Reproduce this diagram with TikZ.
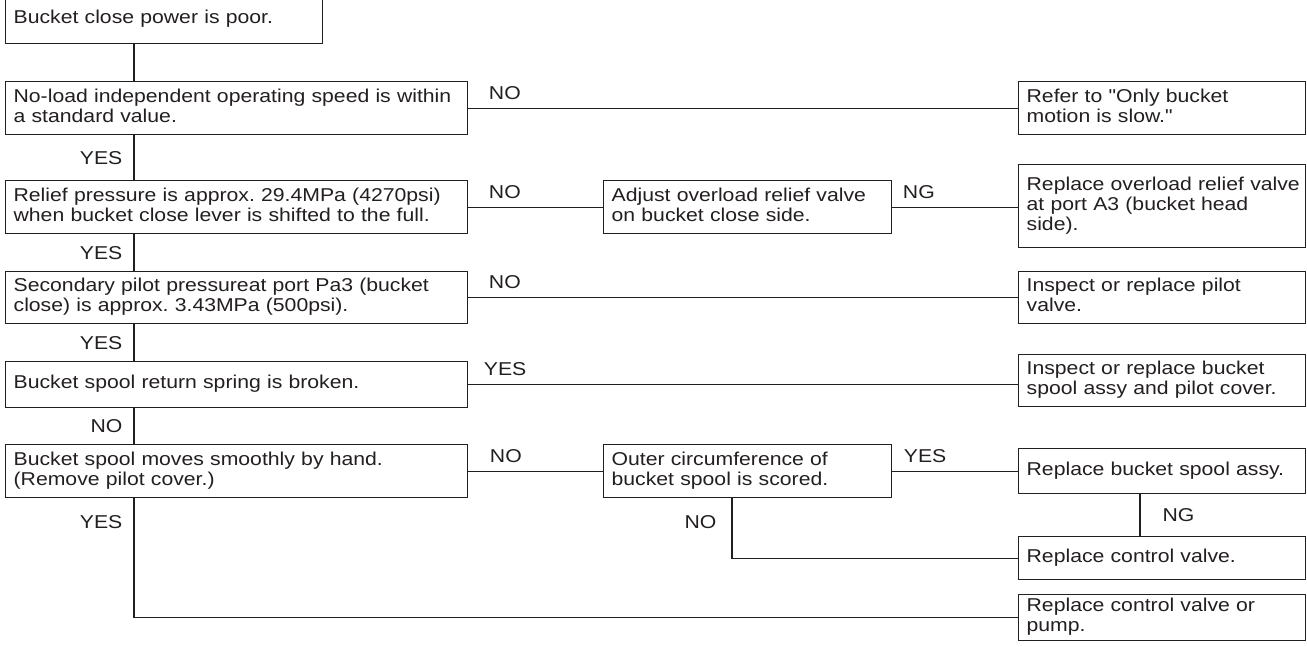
\documentclass[tikz,border=0pt]{standalone}
\usepackage{fontspec}
\setmainfont{Liberation Sans}[FakeStretch=1.14,Ligatures=TeXOff]
\usepackage{tikz}
\definecolor{ink}{RGB}{35,31,32}
\tikzset{
	box/.style={draw=ink, line width=1.3pt, anchor=north west, inner xsep=8pt, inner ysep=0pt, align=left},
	link/.style={draw=ink, line width=1.3pt},
	lab/.style={inner sep=0pt, text=ink},
	hlab/.style={lab, pos=0, anchor=south west, yshift=8pt},
}
\newcommand{\rows}[1]{\begin{tabular}{@{}l@{}}#1\end{tabular}}

\begin{document}
\frenchspacing
\begin{tikzpicture}[x=1pt,y=-1pt,font=\fontsize{18.6}{20}\selectfont,text=ink]
	\useasboundingbox[fill=white] (0,0) rectangle (1307,646);
	% left column
	\node[box, text width=301pt, minimum height=49pt] (power) at (5,-6) {\rows{Bucket close power is poor.}};
	\node[box, text width=446pt, minimum height=53pt] (noload) at (5,81) {\rows{No-load independent operating speed is within\\a standard value.}};
	\node[box, text width=446pt, minimum height=53pt] (relief) at (5,180) {\rows{Relief pressure is approx. 29.4MPa (4270psi)\\when bucket close lever is shifted to the full.}};
	\node[box, text width=446pt, minimum height=52pt] (pilot) at (5,271) {\rows{Secondary pilot pressureat port Pa3 (bucket\\close) is approx. 3.43MPa (500psi).}};
	\node[box, text width=446pt, minimum height=46pt] (spring) at (5,361) {\rows{Bucket spool return spring is broken.}};
	\node[box, text width=446pt, minimum height=53pt] (smooth) at (5,444) {\rows{Bucket spool moves smoothly by hand.\\(Remove pilot cover.)}};
	% middle column
	\node[box, text width=272pt, minimum height=53pt] (adjust) at (603,180) {\rows{Adjust overload relief valve\\on bucket close side.}};
	\node[box, text width=272pt, minimum height=53pt] (scored) at (603,444) {\rows{Outer circumference of\\bucket spool is scored.}};
	% right column
	\node[box, text width=271pt, minimum height=53pt] (refer) at (1018,81) {\rows{Refer to "Only bucket\\motion is slow."}};
	\node[box, text width=271pt, minimum height=83pt] (ovlrelief) at (1018,164) {\rows{Replace overload relief valve\\at port A3 (bucket head\\side).}};
	\node[box, text width=271pt, minimum height=52pt] (pilotvalve) at (1018,271) {\rows{Inspect or replace pilot\\valve.}};
	\node[box, text width=271pt, minimum height=52pt] (spoolcover) at (1018,354) {\rows{Inspect or replace bucket\\spool assy and pilot cover.}};
	\node[box, text width=271pt, minimum height=45pt] (spoolassy) at (1018,448) {\rows{Replace bucket spool assy.}};
	\node[box, text width=271pt, minimum height=43pt] (ctrl) at (1018,536) {\rows{Replace control valve.}};
	\node[box, text width=271pt, minimum height=46pt] (pump) at (1018,594) {\rows{Replace control valve or\\pump.}};
	% connectors
	\draw[link] ([xshift=129pt]power.south west) -- ([xshift=129pt]noload.north west);
	\draw[link] (noload.east) -- node[hlab, xshift=20pt] (no1) {NO} (noload.east -| refer.west);
	\draw[link] ([xshift=129pt]noload.south west) -- node[lab, left=11pt] (yes1) {YES} ([xshift=129pt]relief.north west);
	\draw[link] (relief.east) -- node[hlab, xshift=20pt] (no2) {NO} (adjust.west);
	\draw[link] (adjust.east) -- node[hlab, xshift=10pt] (ng1) {NG} (adjust.east -| ovlrelief.west);
	\draw[link] ([xshift=129pt]relief.south west) -- node[lab, left=11pt] (yes2) {YES} ([xshift=129pt]pilot.north west);
	\draw[link] (pilot.east) -- node[hlab, xshift=20pt] (no3) {NO} (pilot.east -| pilotvalve.west);
	\draw[link] ([xshift=129pt]pilot.south west) -- node[lab, left=11pt] (yes3) {YES} ([xshift=129pt]spring.north west);
	\draw[link] (spring.east) -- node[hlab, xshift=15pt] (yes4) {YES} (spring.east -| spoolcover.west);
	\draw[link] ([xshift=129pt]spring.south west) -- node[lab, left=11pt] (no4) {NO} ([xshift=129pt]smooth.north west);
	\draw[link] (smooth.east) -- node[hlab, xshift=21pt] (no5) {NO} (scored.west);
	\draw[link] (scored.east) -- node[hlab, xshift=11pt] (yes5) {YES} (scored.east -| spoolassy.west);
	\draw[link] ([xshift=122pt]spoolassy.south west) -- node[lab, right=22pt] (ng2) {NG} ([xshift=122pt]ctrl.north west);
	\draw[link] ([xshift=129pt]scored.south west) |- node[lab, left=15pt, pos=0.2] (no6) {NO} (ctrl.west);
	\draw[link] ([xshift=129pt]smooth.south west) |- node[lab, left=11pt, pos=0.1] (yes6) {YES} (pump.west);
\end{tikzpicture}
\end{document}
